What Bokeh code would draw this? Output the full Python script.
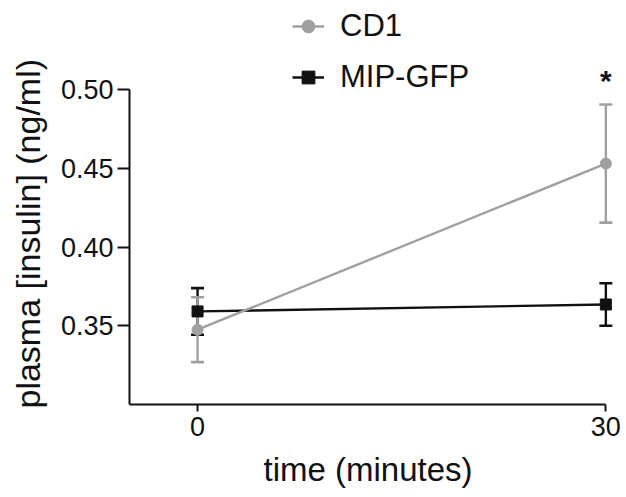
from bokeh.plotting import figure
from bokeh.models import (ColumnDataSource, Whisker, TeeHead, FixedTicker, Range1d,
                          Legend, LegendItem, Title)
from bokeh.core.properties import value
from bokeh.embed import file_html
from bokeh.resources import INLINE

# ---- data ----
time_min = [0, 30]
cd1_mean = [0.3475, 0.4530]
cd1_sem = [0.0206, 0.0375]
mip_mean = [0.3591, 0.3635]
mip_sem = [0.0148, 0.0135]
x_ticks = [0, 30]
y_ticks = [0.35, 0.40, 0.45, 0.50]
y_tick_labels = ["0.35", "0.40", "0.45", "0.50"]
series_names = ["CD1", "MIP-GFP"]
x_title = "time (minutes)"
y_title = "plasma [insulin] (ng/ml)"
signif_mark = "*"

FONT = "Liberation Sans"
GRAY = "#a0a0a0"
BLACK = "#111111"

W, H = 626, 497
LEFT, BOTTOM = 129, 93
frame_h = H - BOTTOM
frame_w = W - LEFT
ypx = 1575.0  # px per unit
xpx = 13.61
y0, ytop = 0.30, 0.50
y1 = y0 + frame_h / ypx
x0, xend = -5, 30
x1 = x0 + frame_w / xpx

p = figure(width=W, height=H, output_backend="svg", toolbar_location=None,
           x_range=Range1d(x0, x1), y_range=Range1d(y0, y1),
           min_border_left=LEFT, min_border_right=0, min_border_top=0,
           min_border_bottom=BOTTOM)
p.outline_line_color = None
p.xgrid.visible = False
p.ygrid.visible = False
p.background_fill_color = "white"
p.border_fill_color = "white"

def make_src(mean, sem):
    return ColumnDataSource(dict(x=time_min, y=mean,
                                 lo=[m - s for m, s in zip(mean, sem)],
                                 hi=[m + s for m, s in zip(mean, sem)]))

src_mip = make_src(mip_mean, mip_sem)
src_cd1 = make_src(cd1_mean, cd1_sem)

# MIP-GFP (drawn first)
r_mip_line = p.line("x", "y", source=src_mip, line_color=BLACK, line_width=2.4)
w_mip = Whisker(source=src_mip, base="x", upper="hi", lower="lo",
                line_color=BLACK, line_width=2.4,
                upper_head=TeeHead(size=13, line_color=BLACK, line_width=2.6),
                lower_head=TeeHead(size=13, line_color=BLACK, line_width=2.6))
p.add_layout(w_mip)
r_mip_pt = p.scatter("x", "y", source=src_mip, marker="square", size=11,
                     fill_color=BLACK, line_color=BLACK)

# CD1
r_cd1_line = p.line("x", "y", source=src_cd1, line_color=GRAY, line_width=2.4)
w_cd1 = Whisker(source=src_cd1, base="x", upper="hi", lower="lo",
                line_color=GRAY, line_width=2.4,
                upper_head=TeeHead(size=13, line_color=GRAY, line_width=2.6),
                lower_head=TeeHead(size=13, line_color=GRAY, line_width=2.6))
p.add_layout(w_cd1)
r_cd1_pt = p.scatter("x", "y", source=src_cd1, marker="circle", size=11,
                     fill_color=GRAY, line_color=GRAY)

# significance asterisk above CD1 at 30 min
ast_src = ColumnDataSource(dict(x=[time_min[1]], y=[cd1_mean[1] + cd1_sem[1]],
                                t=[signif_mark]))
p.text("x", "y", text="t", source=ast_src, text_font=value(FONT),
       text_font_size="30px", text_font_style="bold", text_color=BLACK,
       text_align="center", text_baseline="alphabetic", y_offset=-24)

# legend
legend = Legend(items=[
    LegendItem(label=series_names[0], renderers=[r_cd1_line, r_cd1_pt]),
    LegendItem(label=series_names[1], renderers=[r_mip_line, r_mip_pt]),
], location=(163, frame_h - 87 - 8))
legend.label_text_font = FONT
legend.label_text_font_size = "31px"
legend.label_text_color = BLACK
legend.glyph_width = 32
legend.glyph_height = 36
legend.label_height = 36
legend.label_standoff = 16
legend.spacing = 15
legend.padding = 0
legend.margin = 0
legend.border_line_color = None
legend.background_fill_alpha = 0
p.add_layout(legend)

# axes
xa = p.xaxis[0]
xa.ticker = FixedTicker(ticks=x_ticks)
xa.bounds = (x0, xend)
xa.major_label_text_font = FONT
xa.major_label_text_font_size = "27px"
xa.major_label_text_color = BLACK
xa.major_label_standoff = 5
xa.major_tick_out = 7
xa.major_tick_in = 0
xa.minor_tick_out = 0
xa.minor_tick_in = 0
xa.axis_line_width = 2
xa.major_tick_line_width = 2
xa.axis_line_color = BLACK
xa.major_tick_line_color = BLACK

ya = p.yaxis[0]
ya.ticker = FixedTicker(ticks=y_ticks)
ya.major_label_overrides = {t: l for t, l in zip(y_ticks, y_tick_labels)}
ya.bounds = (y0, ytop)
ya.major_label_text_font = FONT
ya.major_label_text_font_size = "27px"
ya.major_label_text_color = BLACK
ya.major_label_standoff = 4
ya.major_tick_out = 12
ya.major_tick_in = 0
ya.minor_tick_out = 0
ya.minor_tick_in = 0
ya.axis_line_width = 2
ya.major_tick_line_width = 2
ya.axis_line_color = BLACK
ya.major_tick_line_color = BLACK

# axis titles (as side titles so they can be shifted along the axis)
p.add_layout(Title(text=x_title, align="left", offset=134, standoff=20,
                   text_font=FONT, text_font_size="33px", text_font_style="normal",
                   text_color=BLACK), "below")
p.add_layout(Title(text=y_title, align="left", offset=-4, standoff=17,
                   vertical_align="top",
                   text_font=FONT, text_font_size="34px", text_font_style="normal",
                   text_color=BLACK), "left")

open("out.html", "w").write(file_html(p, INLINE))
